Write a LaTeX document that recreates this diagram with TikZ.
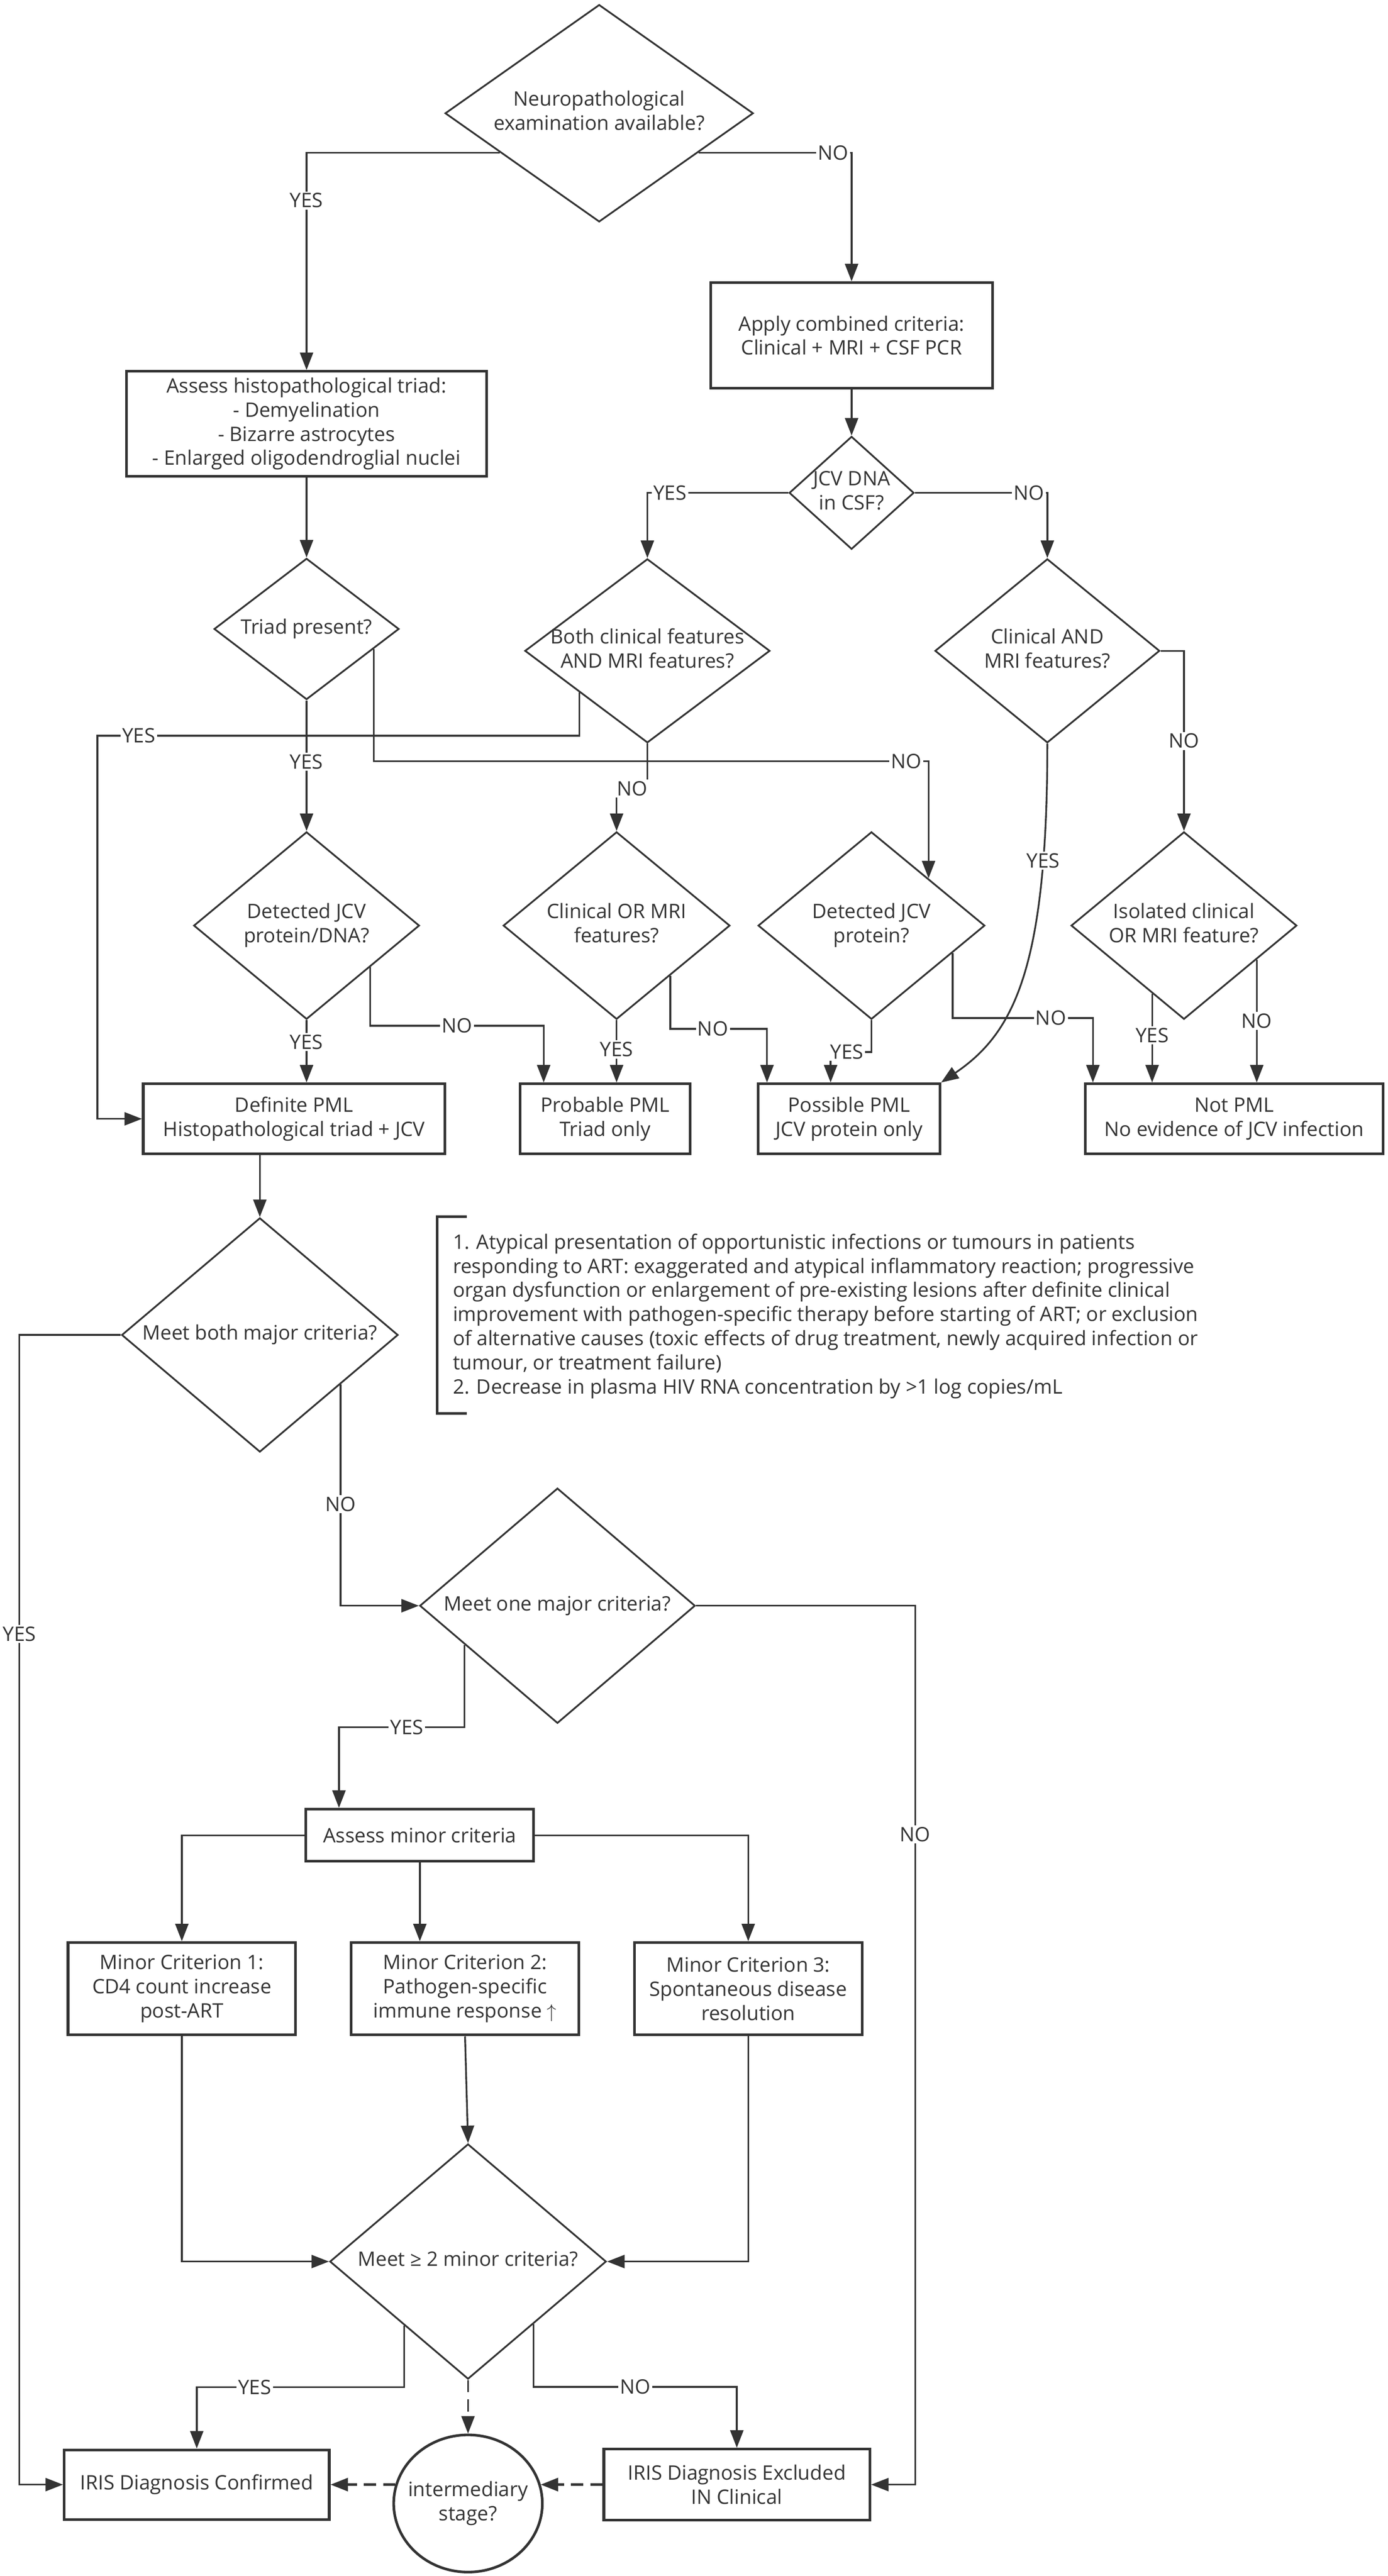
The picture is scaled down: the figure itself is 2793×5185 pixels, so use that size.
\documentclass[tikz,border=0pt]{standalone}
\usepackage{fontspec}
\setmainfont{Open Sans}
\usetikzlibrary{shapes.geometric,arrows.meta,calc}
\definecolor{ink}{HTML}{333333}
\newcommand{\qtext}[1]{\makebox[0pt]{\begin{tabular}{@{}c@{}}#1\end{tabular}}}

\begin{document}
\begin{tikzpicture}[x=0.01cm, y=-0.01cm, text=ink,
    font=\fontsize{11.4}{13.8}\selectfont,
    decision/.style={diamond, draw=ink, line width=1pt, inner sep=0pt},
    process/.style={rectangle, draw=ink, line width=1.5pt, inner sep=2pt, align=center},
    arr/.style={draw=ink, line width=1pt, -{Triangle[length=10pt, width=7.5pt]}},
    dashlink/.style={arr, dash pattern=on 7pt off 4pt},
    lbl/.style={fill=white, inner sep=1pt}]

    % Canvas
    \fill[white] (0,0) rectangle (2793,5185);

    % PML diagnosis
    \node[decision, minimum width=6.20cm, minimum height=4.37cm] (neuro) at (1206,228) {\qtext{Neuropathological\\examination available?}};
    \node[process, minimum width=7.24cm, minimum height=2.11cm] (assess) at (617,853) {Assess histopathological triad:\\- Demyelination\\- Bizarre astrocytes\\- Enlarged oligodendroglial nuclei};
    \node[process, minimum width=5.67cm, minimum height=2.12cm] (apply) at (1714,675) {Apply combined criteria:\\Clinical + MRI + CSF PCR};
    \node[decision, minimum width=2.51cm, minimum height=2.27cm] (csf) at (1714,992) {\qtext{JCV DNA\\in CSF?}};

    \node[decision, minimum width=3.72cm, minimum height=2.84cm] (triad) at (617,1266) {\qtext{Triad present?}};
    \node[decision, minimum width=4.93cm, minimum height=3.70cm] (both) at (1303,1310) {\qtext{Both clinical features\\AND MRI features?}};
    \node[decision, minimum width=4.52cm, minimum height=3.70cm] (clinand) at (2108,1310) {\qtext{Clinical AND\\MRI features?}};

    \node[decision, minimum width=4.54cm, minimum height=3.77cm] (detdna) at (617,1863) {\qtext{Detected JCV\\protein/DNA?}};
    \node[decision, minimum width=4.56cm, minimum height=3.77cm] (clinor) at (1241,1863) {\qtext{Clinical OR MRI\\features?}};
    \node[decision, minimum width=4.56cm, minimum height=3.77cm] (detprot) at (1754,1863) {\qtext{Detected JCV\\protein?}};
    \node[decision, minimum width=4.54cm, minimum height=3.77cm] (isolated) at (2383,1863) {\qtext{Isolated clinical\\OR MRI feature?}};

    \node[process, minimum width=6.07cm, minimum height=1.41cm] (definite) at (592,2252) {Definite PML\\Histopathological triad + JCV};
    \node[process, minimum width=3.42cm, minimum height=1.41cm] (probable) at (1218,2252) {Probable PML\\Triad only};
    \node[process, minimum width=3.65cm, minimum height=1.41cm] (possible) at (1709,2252) {Possible PML\\JCV protein only};
    \node[process, minimum width=5.99cm, minimum height=1.41cm] (notpml) at (2484,2252) {Not PML\\No evidence of JCV infection};

    % Exit points on the diamond sides
    \coordinate (neuroL) at ($(neuro.west)!0.36!(neuro.south)$);
    \coordinate (neuroR) at ($(neuro.east)!0.36!(neuro.south)$);
    \coordinate (triadR) at ($(triad.east)!0.28!(triad.south)$);
    \coordinate (bothL) at ($(both.west)!0.45!(both.south)$);
    \coordinate (detdnaR) at ($(detdna.east)!0.44!(detdna.south)$);
    \coordinate (clinorR) at ($(clinor.east)!0.53!(clinor.south)$);
    \coordinate (detprotR) at ($(detprot.east)!0.29!(detprot.south)$);
    \coordinate (isoL) at ($(isolated.west)!0.72!(isolated.south)$);
    \coordinate (isoR) at ($(isolated.east)!0.36!(isolated.south)$);

    \draw[arr] (neuroL) -| node[lbl, pos=0.61] {YES} (assess.north);
    \draw[arr] (neuroR) -| node[lbl, pos=0.44] {NO} (apply.north);
    \draw[arr] (apply) -- (csf);
    \draw[arr] (csf.west) -| node[lbl, pos=0.42] {YES} (both.north);
    \draw[arr] (csf.east) -| node[lbl, pos=0.43] {NO} (clinand.north);
    \draw[arr] (assess) -- (triad);

    \draw[arr] (triad.south) -- node[lbl, pos=0.47] {YES} (detdna.north);
    \draw[arr] (triadR) -- ++(0,226) -| node[lbl, pos=0.48] {NO} (detprot.north east);
    \draw[arr] (bothL) |- node[lbl, pos=0.957] {YES} (196,1481) |- (definite.west);
    \draw[arr] (both.south) -- ++(0,90) -| node[lbl, pos=0.25] {NO} (clinor.north);
    \draw[arr] (clinand.east) -| node[lbl, pos=0.75] {NO} (isolated.north);
    \draw[arr] (clinand.south) .. controls (2108,1950) and (2040,2080) .. node[lbl, pos=0.2] {YES} (possible.north east);

    \draw[arr] (detdna.south) -- node[lbl, pos=0.35] {YES} (detdna.south |- definite.north);
    \draw[arr] (detdnaR) -- ++(0,118) -| node[lbl, pos=0.25] {NO} ($(probable.north west)+(50,0)$);
    \draw[arr] (clinor.south) -- node[lbl, pos=0.47] {YES} (clinor.south |- probable.north);
    \draw[arr] (clinorR) -- ++(0,107) -| node[lbl, pos=0.22] {NO} ($(possible.north west)+(20,0)$);
    \draw[arr] (detprot.south) -- ++(0,64) -| node[lbl, pos=0.3] {YES} ($(possible.north west)+(148,0)$);
    \draw[arr] (detprotR) -- ++(0,131) -| node[lbl, pos=0.35] {NO} ($(notpml.north west)+(18,0)$);
    \draw[arr] (isoL) -- node[lbl, pos=0.47] {YES} (isoL |- notpml.north);
    \draw[arr] (isoR) -- node[lbl, pos=0.5] {NO} (isoR |- notpml.north);

    % IRIS criteria
    \node[decision, minimum width=5.56cm, minimum height=4.71cm] (bothmajor) at (523,2687) {\qtext{Meet both major criteria?}};
    \node[anchor=west, align=left, inner sep=0pt] (note) at (911,2649) {1. Atypical presentation of opportunistic infections or tumours in patients\\responding to ART: exaggerated and atypical inflammatory reaction; progressive\\organ dysfunction or enlargement of pre-existing lesions after definite clinical\\improvement with pathogen-specific therapy before starting of ART; or exclusion\\of alternative causes (toxic effects of drug treatment, newly acquired infection or\\tumour, or treatment failure)\\2. Decrease in plasma HIV RNA concentration by >1 log copies/mL};
    \draw[ink, line width=1.5pt] (940,2449) -- (880,2449) -- (880,2845) -- (940,2845);

    \node[decision, minimum width=5.54cm, minimum height=4.73cm] (onemajor) at (1122,3232) {\qtext{Meet one major criteria?}};
    \node[process, minimum width=4.58cm, minimum height=1.05cm] (assessminor) at (845,3694) {Assess minor criteria};

    \node[process, minimum width=4.58cm, minimum height=1.86cm] (minor1) at (366,4003) {Minor Criterion 1:\\CD4 count increase\\post-ART};
    \node[process, minimum width=4.58cm, minimum height=1.86cm] (minor2) at (936,4003) {Minor Criterion 2:\\Pathogen-specific\\immune response $\uparrow$};
    \node[process, minimum width=4.58cm, minimum height=1.86cm] (minor3) at (1506,4003) {Minor Criterion 3:\\Spontaneous disease\\resolution};

    \node[decision, minimum width=5.56cm, minimum height=4.73cm] (twominor) at (942,4552) {\qtext{Meet ≥ 2 minor criteria?}};
    \node[ellipse, draw=ink, line width=1.5pt, inner sep=0pt, minimum width=2.99cm, minimum height=2.76cm] (stage) at (942,5039) {\qtext{intermediary\\stage?}};
    \node[process, minimum width=5.33cm, minimum height=1.40cm] (confirmed) at (396,5001) {IRIS Diagnosis Confirmed};
    \node[process, minimum width=5.35cm, minimum height=1.43cm] (excluded) at (1483,5001) {IRIS Diagnosis Excluded\\IN Clinical};

    \coordinate (bothmajorR) at ($(bothmajor.east)!0.42!(bothmajor.south)$);
    \coordinate (onemajorL) at ($(onemajor.west)!0.33!(onemajor.south)$);
    \coordinate (twominorL) at ($(twominor.west)!0.54!(twominor.south)$);
    \coordinate (twominorR) at ($(twominor.east)!0.53!(twominor.south)$);

    \draw[arr] (bothmajor.north |- definite.south) -- (bothmajor.north);
    \draw[arr] (bothmajor.west) -- ++(-204,0) |- node[lbl, pos=0.13] {YES} (confirmed.west);
    \draw[arr] (bothmajorR) |- node[lbl, pos=0.27] {NO} (onemajor.west);
    \draw[arr] (onemajor.east) -- ++(441,0) |- node[lbl, pos=0.13] {NO} (excluded.east);
    \draw[arr] (onemajorL) -- ++(0,166) -| node[lbl, pos=0.23] {YES} ($(assessminor.north west)+(69,0)$);

    \draw[arr] (assessminor.west) -| (minor1.north);
    \draw[arr] (assessminor.south) -- (assessminor.south |- minor2.north);
    \draw[arr] (assessminor.east) -| (minor3.north);
    \draw[arr] (minor1.south) |- (twominor.west);
    \draw[arr] (minor2.south) -- (twominor.north);
    \draw[arr] (minor3.south) |- (twominor.east);

    \draw[arr] (twominorL) -- ++(0,124) -| node[lbl, pos=0.36] {YES} (confirmed.north);
    \draw[arr] (twominorR) -- ++(0,126) -| node[lbl, pos=0.25] {NO} (excluded.north);
    \draw[dashlink] (twominor.south) -- (stage.north);
    \draw[dashlink, line width=1.4pt] (stage.165 |- confirmed.east) -- (confirmed.east);
    \draw[dashlink, line width=1.4pt] (excluded.west) -- (stage.15 |- excluded.west);
\end{tikzpicture}
\end{document}
